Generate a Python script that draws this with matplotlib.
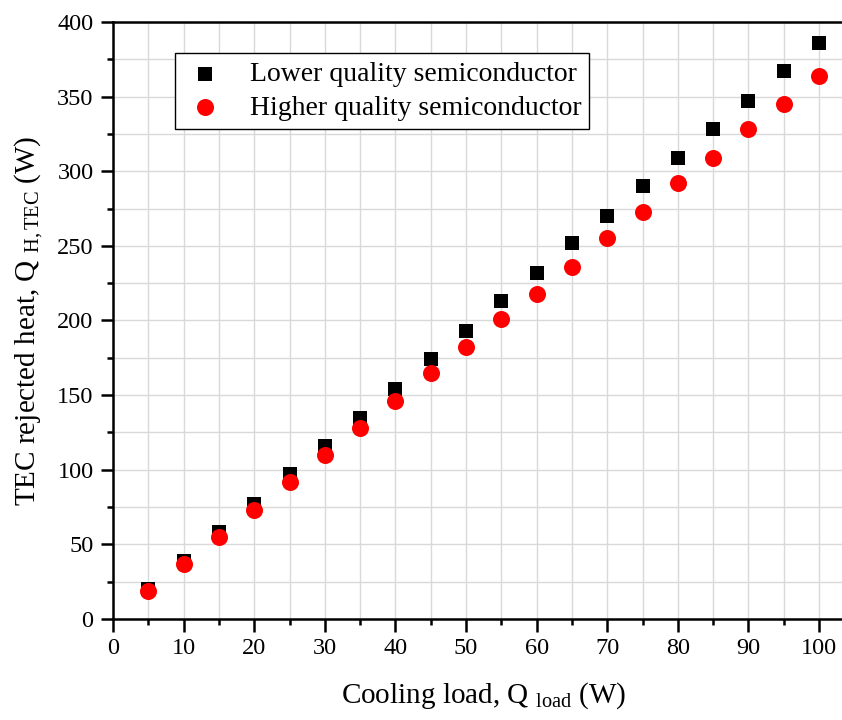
import matplotlib
matplotlib.use("Agg")
import matplotlib.pyplot as plt
from matplotlib.ticker import MultipleLocator

plt.rcParams['font.family'] = ['Liberation Serif', 'DejaVu Serif']
plt.rcParams['mathtext.fontset'] = 'custom'
plt.rcParams['mathtext.rm'] = 'Liberation Serif'
plt.rcParams['mathtext.it'] = 'Liberation Serif:italic'

cooling_load = [5, 10, 15, 20, 25, 30, 35, 40, 45, 50, 55, 60, 65, 70, 75, 80, 85, 90, 95, 100]
lower_quality = [20, 39, 58, 77, 97, 116, 135, 154, 174, 193, 213, 232, 252, 270, 290, 309, 328, 347, 367, 386]
higher_quality = [18.5, 37, 55, 73, 92, 110, 128, 146, 165, 182, 201, 218, 236, 255, 273, 292, 309, 328, 345, 364]

W, H = 842, 720
fig = plt.figure(figsize=(W / 100, H / 100), dpi=100)
px_per_x = 7.06
x0, y0, ytop = 113, 619, 22
xmax = 105
ax = fig.add_axes([x0 / W, (H - y0) / H, xmax * px_per_x / W, (y0 - ytop) / H])

ax.scatter(cooling_load, lower_quality, marker='s', s=100, color='black',
           label='Lower quality semiconductor', zorder=3, linewidths=0)
ax.scatter(cooling_load, higher_quality, marker='o', s=150, color='#ff0000',
           label='Higher quality semiconductor', zorder=4, linewidths=0)

ax.set_xlim(0, xmax)
ax.set_ylim(0, 400)
ax.xaxis.set_major_locator(MultipleLocator(10))
ax.xaxis.set_minor_locator(MultipleLocator(5))
ax.yaxis.set_major_locator(MultipleLocator(50))
ax.yaxis.set_minor_locator(MultipleLocator(25))
ax.grid(True, which='both', color='#d9d9d9', linewidth=1.0, zorder=0)
ax.set_axisbelow(True)

for s in ax.spines.values():
    s.set_linewidth(1.8)
ax.spines['right'].set_visible(False)

ax.tick_params(which='major', direction='out', length=9, width=1.8, labelsize=17.5, pad=5)
ax.tick_params(which='minor', direction='out', length=4.5, width=1.8)
ax.tick_params(top=False, right=False)

ax.set_xlabel(r'Cooling load, Q $_{\mathregular{load}}$ (W)', fontsize=21, labelpad=15)
ax.set_ylabel(r'TEC rejected heat, Q $_{\mathregular{H,TEC}}$ (W)', fontsize=21, labelpad=9)

leg = ax.legend(loc='upper left', bbox_to_anchor=(0.083, 0.948), fontsize=20,
                frameon=True, fancybox=False, edgecolor='black', framealpha=1,
                borderpad=0.3, handlelength=1.6, handletextpad=0.8,
                labelspacing=0.3, borderaxespad=0)
leg.get_frame().set_linewidth(1.0)

fig.savefig('out.png', dpi=100)
